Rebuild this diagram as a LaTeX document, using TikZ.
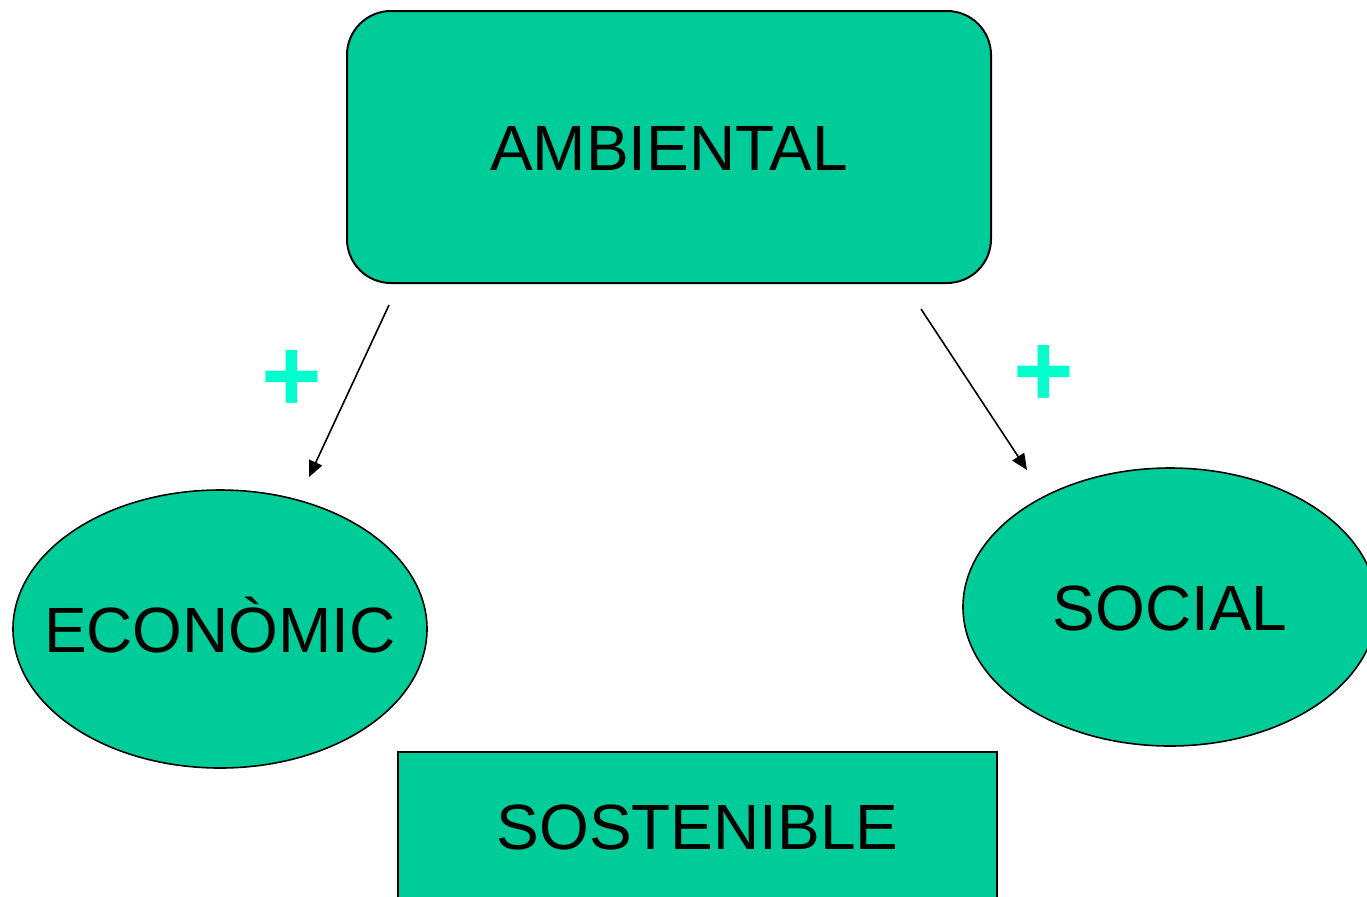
\documentclass[tikz,border=0pt]{standalone}
\usepackage{fontspec}
\setmainfont{Liberation Sans}
\usetikzlibrary{arrows.meta, shapes.geometric}
\definecolor{verd}{HTML}{00CC99}
\definecolor{turq}{HTML}{00FFCC}
\begin{document}
\begin{tikzpicture}
% style
	[x=0.5pt, y=-0.5pt,
	every node/.style={font=\fontsize{32}{38}\selectfont, text height=23pt, text depth=0pt},
	pillar/.style={rectangle, rounded corners=22pt, draw=black, fill=verd, line width=1pt, minimum width=322pt, minimum height=136pt},
	side/.style={ellipse, draw=black, fill=verd, line width=0.8pt, inner xsep=-30pt, inner ysep=0pt, minimum width=207pt, minimum height=139pt},
	goal/.style={rectangle, draw=black, fill=verd, line width=1pt, minimum width=299.5pt, minimum height=74pt},
	plus/.style={text=turq, font=\fontsize{52}{60}\selectfont\bfseries, inner sep=0pt, text height=, text depth=},
	link/.style={-{Triangle[length=8pt, width=7pt]}, line width=0.8pt}]
	\useasboundingbox (0,0) rectangle (1367,896);

	% nodes
	\node [pillar] (amb) at (669,147) {AMBIENTAL};
	\node [side] (econ) at (220,629) {ECONÒMIC};
	\node [side] (soc) at (1170,607) {SOCIAL};
	\node [goal] (sost) at (697.5,826) {SOSTENIBLE};
	\node [plus] (p1) at (292,381) {+};
	\node [plus] (p2) at (1044,376) {+};

	% arrows
	\coordinate (a1) at (389,305);
	\coordinate (e1) at (309,477);
	\coordinate (a2) at (921,309);
	\coordinate (e2) at (1027,470);
	\draw [link] (a1) -- (e1);
	\draw [link] (a2) -- (e2);
\end{tikzpicture}
\end{document}
